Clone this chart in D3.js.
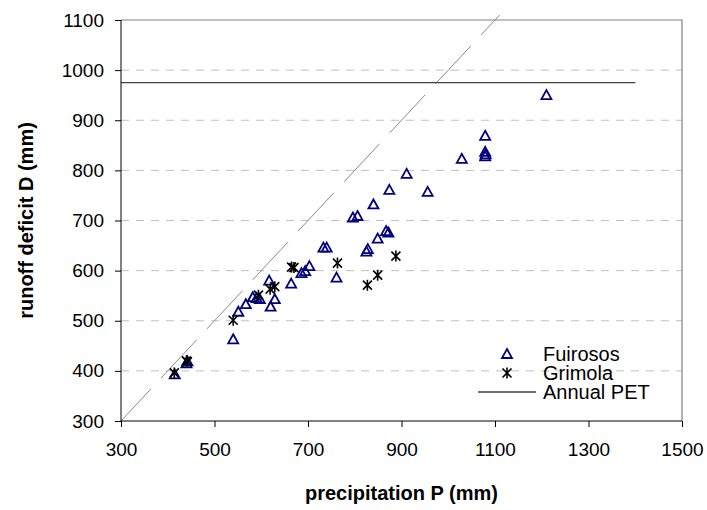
<!DOCTYPE html>
<html>
<head>
<meta charset="utf-8">
<script src="https://cdn.jsdelivr.net/npm/d3@7"></script>
<style>
  body { margin: 0; background: #fff; }
  svg { font-family: Arial, "Liberation Sans", sans-serif; }
  .axis path, .axis line { stroke: #000; }
  .axis text { font-size: 19px; fill: #000; }
</style>
</head>
<body>
<script>
// Fuirosos catchment: precipitation P (mm) vs runoff deficit D (mm)
const fuirosP = [415, 440, 442, 540, 551, 567, 582, 590, 597, 617, 620, 629, 664, 686, 694, 703, 733, 740, 761, 796, 806, 825, 828, 840, 849, 867, 872, 874, 911, 956, 1029, 1079, 1079, 1080, 1079, 1210];
const fuirosD = [393, 415, 419, 463, 518, 533, 547, 545, 543, 580, 528, 543, 574, 595, 599, 609, 646, 646, 586, 706, 709, 638, 643, 732, 664, 679, 676, 761, 793, 757, 823, 869, 837, 832, 828, 950];

// Grimola catchment
const grimolaP = [414, 440, 442, 540, 594, 619, 629, 665, 670, 763, 827, 849, 888];
const grimolaD = [396, 420, 418, 501, 551, 563, 568, 607, 606, 615, 571, 591, 629];

const petValue = 975;
const petRange = [300, 1400];
const oneToOne = [300, 1110];

const xTicks = [300, 500, 700, 900, 1100, 1300, 1500];
const yTicks = [300, 400, 500, 600, 700, 800, 900, 1000, 1100];
const legendNames = ["Fuirosos", "Grimola", "Annual PET"];

const w = 707, h = 510;
const plotL = 121, plotR = 682, plotT = 20, plotB = 421;

const svg = d3.select("body").append("svg")
  .attr("width", w)
  .attr("height", h);

const x = d3.scaleLinear().domain([300, 1500]).range([plotL, plotR]);
const y = d3.scaleLinear().domain([300, 1100]).range([plotB, plotT]);

// gridlines
svg.append("g")
  .selectAll("line")
  .data(yTicks.filter(d => d > 300 && d < 1100))
  .enter().append("line")
  .attr("x1", plotL).attr("x2", plotR)
  .attr("y1", d => y(d)).attr("y2", d => y(d))
  .attr("stroke", "#c0c0c0")
  .attr("stroke-dasharray", "8,7");

// plot border on top and right
svg.append("path")
  .attr("d", `M${plotL},${plotT}H${plotR}V${plotB}`)
  .attr("fill", "none")
  .attr("stroke", "#808080")
  .attr("stroke-width", 1.2);

// 1:1 line
svg.append("line")
  .attr("x1", x(oneToOne[0])).attr("y1", y(oneToOne[0]))
  .attr("x2", x(oneToOne[1])).attr("y2", y(oneToOne[1]))
  .attr("stroke", "#8a8a8a")
  .attr("stroke-dasharray", "52,15")
  .attr("stroke-dashoffset", 8);

// annual PET
svg.append("line")
  .attr("x1", x(petRange[0])).attr("x2", x(petRange[1]))
  .attr("y1", y(petValue)).attr("y2", y(petValue))
  .attr("stroke", "#404040")
  .attr("stroke-width", 1.3);

// axes
const fmt = d3.format("d");
const xAxis = d3.axisBottom(x).tickValues(xTicks).tickFormat(fmt).tickSize(6).tickSizeOuter(0).tickPadding(16);
const yAxis = d3.axisLeft(y).tickValues(yTicks).tickFormat(fmt).tickSize(6).tickSizeOuter(0).tickPadding(11);

svg.append("g")
  .attr("class", "axis")
  .attr("transform", `translate(0,${plotB})`)
  .call(xAxis)
  .call(g => g.select(".domain").attr("d", `M${plotL},0H${plotR}`));

svg.append("g")
  .attr("class", "axis")
  .attr("transform", `translate(${plotL},0)`)
  .call(yAxis)
  .call(g => g.select(".domain").attr("d", `M0,${plotT}V${plotB}`));

// markers
const triPath = "M0,-5L5,4L-5,4Z";
const starPath = "M-4.5,-4.5L4.5,4.5M-4.5,4.5L4.5,-4.5M0,-5.5V5.5";

svg.append("g")
  .selectAll("path")
  .data(fuirosP.map((p, i) => [p, fuirosD[i]]))
  .enter().append("path")
  .attr("d", triPath)
  .attr("transform", d => `translate(${x(d[0])},${y(d[1])})`)
  .attr("fill", "none")
  .attr("stroke", "#000080")
  .attr("stroke-width", 1.8);

svg.append("g")
  .selectAll("path")
  .data(grimolaP.map((p, i) => [p, grimolaD[i]]))
  .enter().append("path")
  .attr("d", starPath)
  .attr("transform", d => `translate(${x(d[0])},${y(d[1])})`)
  .attr("fill", "none")
  .attr("stroke", "#000")
  .attr("stroke-width", 1.6);

// legend
const legend = svg.selectAll(".legend")
  .data(legendNames)
  .enter().append("g")
  .attr("class", "legend")
  .attr("transform", (d, i) => `translate(507, ${354 + i * 19})`);

legend.append("text")
  .attr("x", 36)
  .attr("y", 7)
  .style("font-size", "20px")
  .text(d => d);

legend.filter((d, i) => i === 0).append("path")
  .attr("d", triPath)
  .attr("fill", "none")
  .attr("stroke", "#000080")
  .attr("stroke-width", 1.8);

legend.filter((d, i) => i === 1).append("path")
  .attr("d", starPath)
  .attr("fill", "none")
  .attr("stroke", "#000")
  .attr("stroke-width", 1.6);

legend.filter((d, i) => i === 2).append("line")
  .attr("x1", -29).attr("x2", 29)
  .attr("y1", 0).attr("y2", 0)
  .attr("stroke", "#404040")
  .attr("stroke-width", 1.3);

// axis titles
svg.append("text")
  .attr("text-anchor", "middle")
  .attr("x", (plotL + plotR) / 2)
  .attr("y", 500)
  .style("font-size", "20px")
  .style("font-weight", "bold")
  .text("precipitation P (mm)");

svg.append("text")
  .attr("text-anchor", "middle")
  .attr("transform", `translate(33,${(plotT + plotB) / 2})rotate(-90)`)
  .style("font-size", "20px")
  .style("font-weight", "bold")
  .text("runoff deficit D (mm)");
</script>
</body>
</html>
